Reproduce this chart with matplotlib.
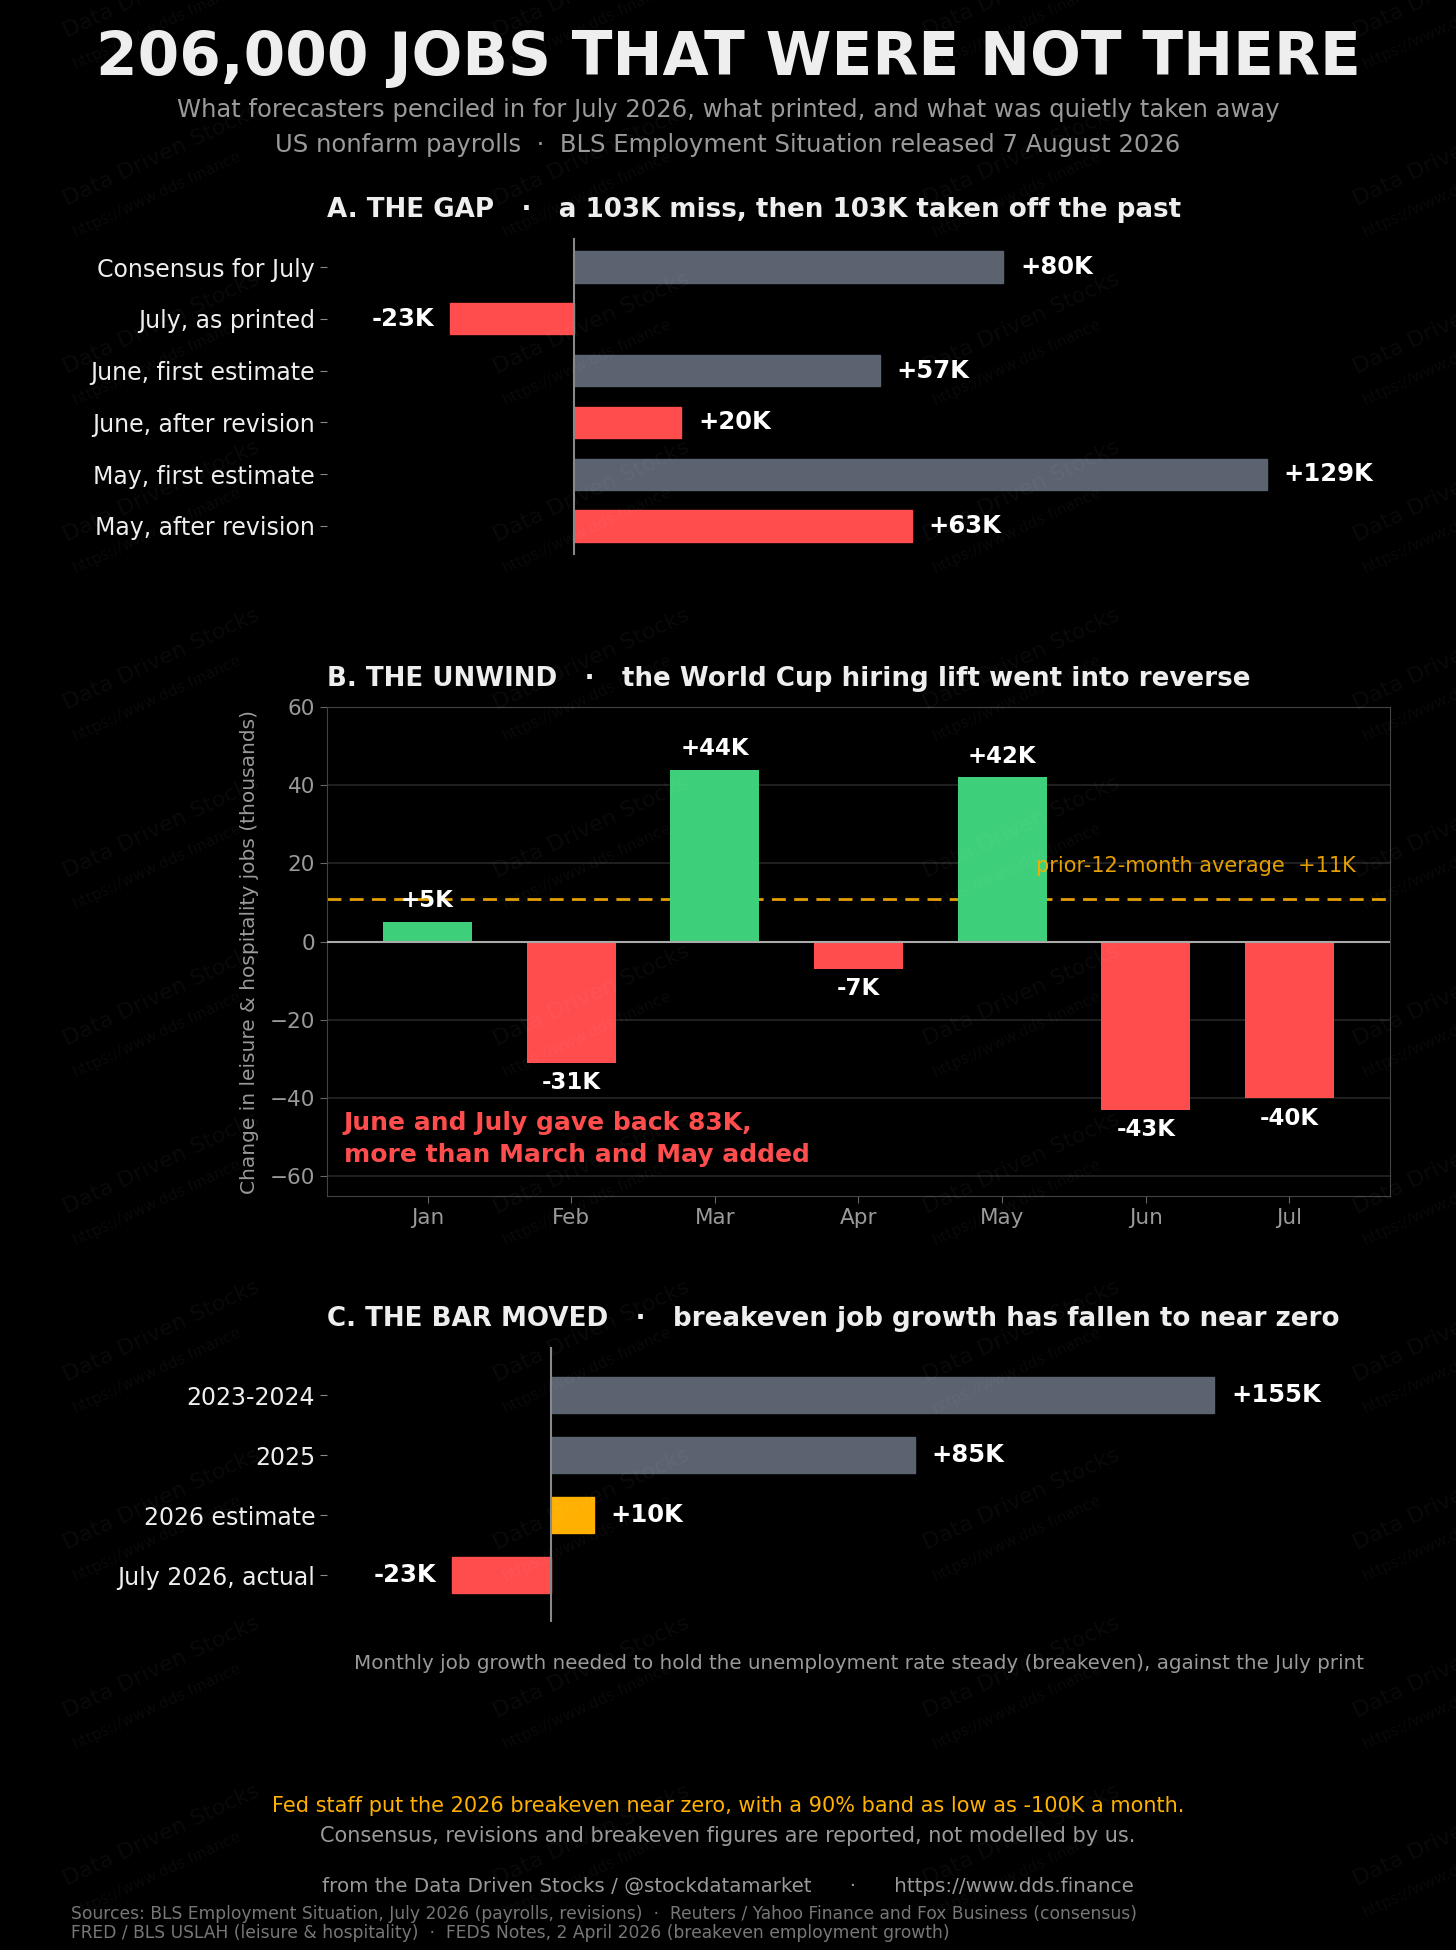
import numpy as np
import matplotlib
matplotlib.use("Agg")
import matplotlib.pyplot as plt

# ---- data ----
gap_labels = ["Consensus for July", "July, as printed", "June, first estimate",
              "June, after revision", "May, first estimate", "May, after revision"]
gap_values = [80, -23, 57, 20, 129, 63]

months = ["Jan", "Feb", "Mar", "Apr", "May", "Jun", "Jul"]
leisure_values = [5, -31, 44, -7, 42, -43, -40]
prior_avg = 11

bar_labels = ["2023-2024", "2025", "2026 estimate", "July 2026, actual"]
bar_values = [155, 85, 10, -23]

GRAY = "#5b6270"
RED = "#ff4d4d"
GREEN = "#3ecf7a"
GOLD = "#ffb000"
TXT = "#eeeeee"
MUTED = "#9a9a9a"

gap_colors = [GRAY, RED, GRAY, RED, GRAY, RED]
bar_colors = [GRAY, GRAY, GOLD, RED]

W, H = 1456, 1950
fig = plt.figure(figsize=(W / 100, H / 100), dpi=100, facecolor="black")


def box(left, top, right, bottom):
    return [left / W, 1 - bottom / H, (right - left) / W, (bottom - top) / H]


# faint tiled watermark
for yy in np.arange(60, H, 168):
    for xx in np.arange(60, W, 430):
        fig.text(xx / W, yy / H, "Data Driven Stocks", color="#ffffff", alpha=0.045,
                 fontsize=16, rotation=25, ha="left", va="bottom")
        fig.text((xx + 10) / W, (yy - 30) / H, "https://www.dds.finance", color="#ffffff",
                 alpha=0.045, fontsize=11, rotation=25, ha="left", va="bottom")

fig.text(0.5, 1 - 58 / H, "206,000 JOBS THAT WERE NOT THERE", ha="center", va="center",
         color=TXT, fontsize=43, fontweight="bold")
fig.text(0.5, 1 - 110 / H, "What forecasters penciled in for July 2026, what printed, and what was quietly taken away",
         ha="center", va="center", color=MUTED, fontsize=17.5)
fig.text(0.5, 1 - 145 / H, "US nonfarm payrolls  ·  BLS Employment Situation released 7 August 2026",
         ha="center", va="center", color=MUTED, fontsize=17.5)


def hbar_panel(ax, labels, values, colors, xlim, ylim, title):
    y = np.arange(len(labels))
    ax.set_facecolor("none")
    ax.barh(y, values, height=0.6, color=colors, edgecolor=colors)
    ax.axvline(0, color="#888888", lw=1.5)
    for yi, v in zip(y, values):
        txt = f"+{v}K" if v > 0 else f"{v}K"
        ax.annotate(txt, (v, yi), xytext=(12 if v > 0 else -12, 0), textcoords="offset points",
                    ha="left" if v > 0 else "right", va="center",
                    color="white", fontsize=17.5, fontweight="bold")
    ax.set_yticks(y)
    ax.set_yticklabels(labels)
    ax.set_xlim(*xlim)
    ax.set_ylim(*ylim)
    ax.set_xticks([])
    for s in ax.spines.values():
        s.set_visible(False)
    ax.tick_params(axis="y", colors="#888888", labelcolor=TXT, labelsize=17, length=5)
    ax.set_title(title, loc="left", color=TXT, fontsize=18.8, fontweight="bold", pad=15)


# ---- panel A ----
axA = fig.add_axes(box(327, 238, 1390, 555))
hbar_panel(axA, gap_labels, gap_values, gap_colors, (-46, 152), (5.56, -0.56),
           "A. THE GAP   ·   a 103K miss, then 103K taken off the past")

# ---- panel B ----
axB = fig.add_axes(box(327, 707, 1390, 1196))
axB.set_facecolor("black")
x = np.arange(len(months))
colsB = [GREEN if v > 0 else RED for v in leisure_values]
axB.bar(x, leisure_values, width=0.62, color=colsB, zorder=3)
axB.axhline(0, color="#aaaaaa", lw=1.5, zorder=4)
axB.axhline(prior_avg, color=GOLD, lw=2, ls=(0, (5, 3)), zorder=2, alpha=0.9)
axB.text(6.46, 19.3, f"prior-12-month average  +{prior_avg}K", ha="right", va="center",
         color=GOLD, fontsize=15, alpha=0.9, zorder=5)
for xi, v in zip(x, leisure_values):
    txt = f"+{v}K" if v > 0 else f"{v}K"
    axB.annotate(txt, (xi, v), xytext=(0, 7 if v > 0 else -6), textcoords="offset points",
                 ha="center", va="bottom" if v > 0 else "top",
                 color="white", fontsize=16.5, fontweight="bold", zorder=6)
axB.text(-0.585, -50.5, "June and July gave back 83K,\nmore than March and May added",
         ha="left", va="center", color=RED, fontsize=18, fontweight="bold", linespacing=1.4, zorder=6)
axB.set_xticks(x)
axB.set_xticklabels(months)
axB.set_xlim(-0.7, 6.7)
axB.set_ylim(-65, 60)
axB.set_yticks([-60, -40, -20, 0, 20, 40, 60])
axB.grid(axis="y", color="#262626", lw=1.2, zorder=0)
for s in axB.spines.values():
    s.set_color("#444444")
axB.tick_params(colors="#666666", labelcolor=MUTED, labelsize=15.5, length=5)
axB.set_ylabel("Change in leisure & hospitality jobs (thousands)", color=MUTED, fontsize=14.5, labelpad=8)
axB.set_title("B. THE UNWIND   ·   the World Cup hiring lift went into reverse", loc="left",
              color=TXT, fontsize=18.8, fontweight="bold", pad=15)

# ---- panel C ----
axC = fig.add_axes(box(327, 1347, 1390, 1622))
hbar_panel(axC, bar_labels, bar_values, bar_colors, (-52.3, 196), (3.78, -0.8),
           "C. THE BAR MOVED   ·   breakeven job growth has fallen to near zero")
axC.set_xlabel("Monthly job growth needed to hold the unemployment rate steady (breakeven), against the July print",
               color=MUTED, fontsize=14.3, labelpad=23)

# ---- footer ----
fig.text(0.5, 1 - 1806 / H, "Fed staff put the 2026 breakeven near zero, with a 90% band as low as -100K a month.",
         ha="center", va="center", color=GOLD, fontsize=15)
fig.text(0.5, 1 - 1836 / H, "Consensus, revisions and breakeven figures are reported, not modelled by us.",
         ha="center", va="center", color=MUTED, fontsize=15)
fig.text(0.5, 1 - 1886 / H, "from the Data Driven Stocks / @stockdatamarket      ·      https://www.dds.finance",
         ha="center", va="center", color=MUTED, fontsize=14.3)
fig.text(71 / W, 1 - 1914 / H,
         "Sources: BLS Employment Situation, July 2026 (payrolls, revisions)  ·  Reuters / Yahoo Finance and Fox Business (consensus)",
         ha="left", va="center", color="#777777", fontsize=12.3)
fig.text(71 / W, 1 - 1933 / H,
         "FRED / BLS USLAH (leisure & hospitality)  ·  FEDS Notes, 2 April 2026 (breakeven employment growth)",
         ha="left", va="center", color="#777777", fontsize=12.3)

fig.savefig("out.png", dpi=100, facecolor="black")
